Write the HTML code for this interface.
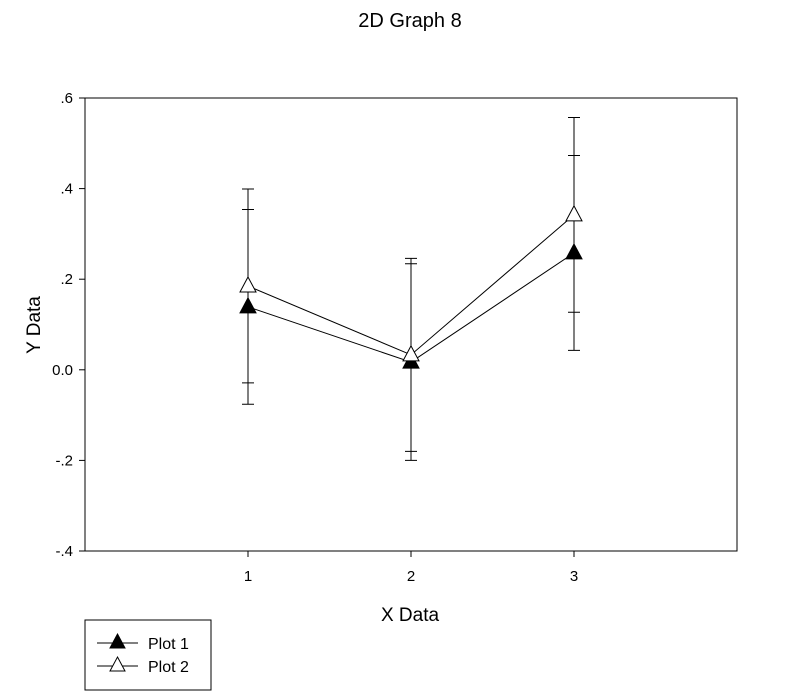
<!DOCTYPE html>
<html><head><meta charset="utf-8"><style>
body{margin:0;background:#fff;}
svg{display:block;font-family:"Liberation Sans",Arial,sans-serif;}
</style></head><body>
<svg id="chart" width="800" height="696">
<text x="410" y="27" font-size="20" text-anchor="middle">2D Graph 8</text>
<rect x="85" y="98" width="652" height="453" fill="none" stroke="#000" stroke-width="1"/>
<g id="axes"></g>
<g id="series"></g>
<text x="410" y="621" font-size="19" text-anchor="middle">X Data</text>
<text transform="translate(40,325) rotate(-90)" font-size="19" text-anchor="middle">Y Data</text>
<g>
<rect x="85" y="620" width="126" height="70" fill="none" stroke="#000"/>
<g>
<line x1="97" y1="643" x2="138" y2="643" stroke="#000"/>
<polygon points="117.5,634 125,648 110,648" fill="#000" stroke="#000"/>
<text x="148" y="649" font-size="16">Plot 1</text></g>
<g>
<line x1="97" y1="666" x2="138" y2="666" stroke="#000"/>
<polygon points="117.5,657 125,671 110,671" fill="#fff" stroke="#000"/>
<text x="148" y="672" font-size="16">Plot 2</text></g>
</g>
</svg>
<script>
const categories=[1,2,3];
const plot1=[0.139,0.017,0.258];
const plot1Err=[0.215,0.217,0.215];
const plot2=[0.185,0.033,0.342];
const plot2Err=[0.214,0.213,0.215];
const yTicks=[-0.4,-0.2,0,0.2,0.4,0.6];
const yTickLabels=["-.4","-.2","0.0",".2",".4",".6"];
const xTicks=[1,2,3];
const NS="http://www.w3.org/2000/svg";
const L=85,R=737,T=98,B=551;
const xs=v=>L+(v-0)/(4-0)*(R-L);
const ys=v=>B-(v+0.4)/(1.0)*(B-T);
function mk(tag,attrs,parent){const e=document.createElementNS(NS,tag);for(const k in attrs)e.setAttribute(k,attrs[k]);parent.appendChild(e);return e;}
const axes=document.getElementById('axes');
yTicks.forEach((v,i)=>{
 const y=ys(v);
 const t=mk('line',{x1:L-6,x2:L,y1:y,y2:y,stroke:'#000'},axes);
 
 
 const lb=mk('text',{x:L-12,y:y+5,'font-size':15,'text-anchor':'end'},axes);
 lb.textContent=yTickLabels[i];
 
 
});
xTicks.forEach(v=>{
 const x=xs(v);
 const t=mk('line',{x1:x,x2:x,y1:B,y2:B+6,stroke:'#000'},axes);
 
 
 const lb=mk('text',{x:x,y:B+30,'font-size':15,'text-anchor':'middle'},axes);
 lb.textContent=String(v);
 
 
});
const sg=document.getElementById('series');
function drawSeries(vals,errs,fill,name){
 const g=mk('g',{},sg);
 
 
 vals.forEach((v,i)=>{
  const x=xs(categories[i]);
  const e=mk('path',{d:`M${x},${ys(v+errs[i])}V${ys(v-errs[i])}M${x-6},${ys(v+errs[i])}H${x+6}M${x-6},${ys(v-errs[i])}H${x+6}`,stroke:'#000',fill:'none'},g);
  
  
 });
 const pl=mk('polyline',{points:vals.map((v,i)=>xs(categories[i])+','+ys(v)).join(' '),fill:'none',stroke:'#000'},g);
 
 
 vals.forEach((v,i)=>{
  const x=xs(categories[i]),y=ys(v);
  const p=mk('polygon',{points:`${x},${y-9} ${x+8},${y+6} ${x-8},${y+6}`,fill:fill,stroke:'#000'},g);
  
  
 });
}
drawSeries(plot1,plot1Err,'#000','plot-1');
drawSeries(plot2,plot2Err,'#fff','plot-2');
</script>
</body></html>
